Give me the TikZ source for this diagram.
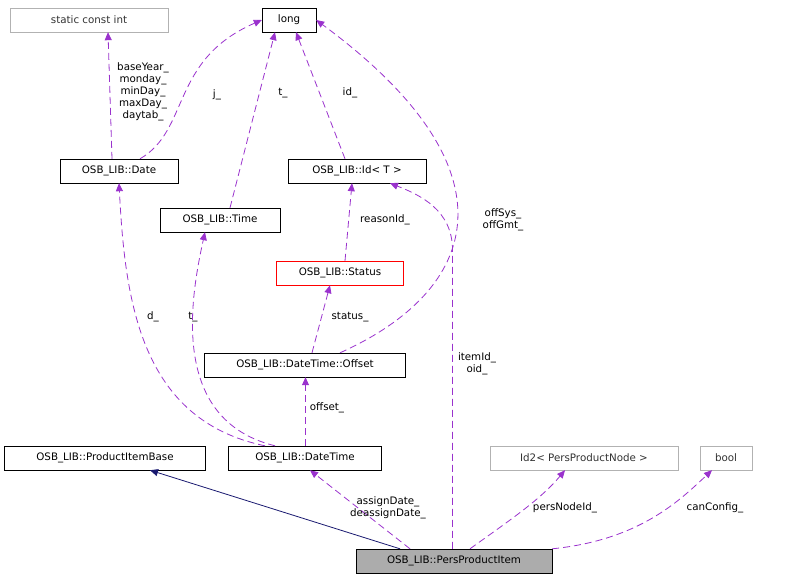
\documentclass[tikz,border=0pt]{standalone}
\usepackage{fontspec}
\setmainfont{DejaVu Sans}
\usetikzlibrary{arrows.meta}
\definecolor{edgepurple}{HTML}{9A32CD}
\definecolor{edgenavy}{HTML}{191970}
\tikzset{
  cls/.style={draw=black, fill=white, inner sep=0pt, minimum height=24pt, font=\fontsize{10.3}{12}\selectfont},
  ext/.style={cls, draw=gray!60, text=black!80},
  use/.style={line width=0.8pt, dash pattern=on 7pt off 4pt, edgepurple, -{Triangle[length=8pt,width=7pt]}},
  inh/.style={line width=0.8pt, edgenavy, -{Triangle[length=8pt,width=7pt,open,fill=edgenavy]}},
  lbl/.style={font=\fontsize{10.3}{12}\selectfont, align=center, inner sep=1pt}
}
\begin{document}
\begin{tikzpicture}[x=1pt,y=-1pt]
  \useasboundingbox (0,0) rectangle (808,579);
  % classes
  \node[ext, minimum width=158pt] (sci) at (89,20) {static const int};
  \node[cls, minimum width=54pt] (long) at (289,20) {long};
  \node[cls, minimum width=118pt] (date) at (119,171) {OSB\_LIB::Date};
  \node[cls, minimum width=120pt] (time) at (220,220) {OSB\_LIB::Time};
  \node[cls, minimum width=138pt] (id) at (357,171) {OSB\_LIB::Id< T >};
  \node[cls, draw=red, minimum width=127pt] (status) at (340,273) {OSB\_LIB::Status};
  \node[cls, minimum width=201pt] (offset) at (305,365) {OSB\_LIB::DateTime::Offset};
  \node[cls, minimum width=201pt] (base) at (105,458) {OSB\_LIB::ProductItemBase};
  \node[cls, minimum width=153pt] (dt) at (305,458) {OSB\_LIB::DateTime};
  \node[ext, minimum width=188pt] (id2) at (584,458) {Id2< PersProductNode >};
  \node[ext, minimum width=52pt] (bool) at (726,458) {bool};
  \node[cls, fill=gray!65, minimum width=196pt] (ppi) at (454,561) {OSB\_LIB::PersProductItem};
  % connectors
  \draw[use] (date.north -| 112,0) -- (sci.south -| 108,0);
  \node[lbl] at (143,92) {baseYear\_\\monday\_\\minDay\_\\maxDay\_\\daytab\_};
  \draw[use] (date.north -| 140,0) .. controls (190,130) and (170,60) .. (long.west);
  \node[lbl] at (217,95) {j\_};
  \draw[use] (time.north -| 230,0) -- (long.south -| 275,0);
  \node[lbl] at (283,93) {t\_};
  \draw[use] (id.north -| 345,0) -- (long.south -| 296,0);
  \node[lbl] at (350,93) {id\_};
  \draw[use] (offset.north -| 340,0) .. controls (480,290) and (520,170) .. (long.east);
  \node[lbl] at (503,220) {offSys\_\\offGmt\_};
  \draw[use] (status.north -| 345,0) -- (id.south -| 352,0);
  \node[lbl] at (385,220) {reasonId\_};
  \draw[use] (offset.north -| 312,0) -- (status.south -| 330,0);
  \node[lbl] at (350,317) {status\_};
  \draw[use] (dt.north -| 265,0) .. controls (140,420) and (125,300) .. (date.south -| 119,0);
  \node[lbl] at (153,317) {d\_};
  \draw[use] (dt.north -| 275,0) .. controls (170,420) and (190,300) .. (time.south -| 205,0);
  \node[lbl] at (193,317) {t\_};
  \draw[use] (dt.north -| 305.5,0) -- (offset.south -| 305.5,0);
  \node[lbl] at (327,408) {offset\_};
  \draw[inh] (ppi.north -| 400,0) -- (base.south -| 150,0);
  \draw[use] (ppi.north -| 410,0) -- (dt.south -| 310,0);
  \node[lbl] at (388,508) {assignDate\_\\deassignDate\_};
  \draw[use] (ppi.north -| 452.5,0) -- (452.5,250) .. controls (452.5,210) and (420,195) .. (id.south -| 390,0);
  \node[lbl] at (477,364) {itemId\_\\oid\_};
  \draw[use] (ppi.north -| 470,0) .. controls (510,520) and (540,500) .. (id2.south -| 565,0);
  \node[lbl] at (565,508) {persNodeId\_};
  \draw[use] (ppi.north east) .. controls (640,540) and (680,500) .. (bool.south -| 712,0);
  \node[lbl] at (715,508) {canConfig\_};
\end{tikzpicture}
\end{document}
